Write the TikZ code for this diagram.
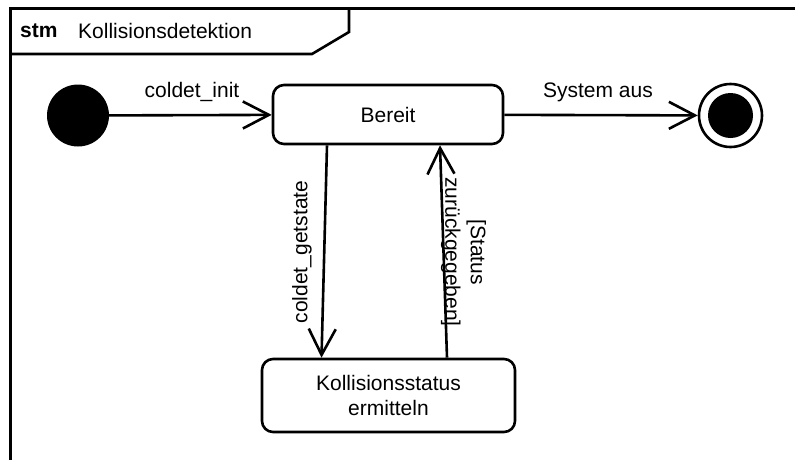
\documentclass[tikz,border=0pt]{standalone}
\usepackage{fontspec}
\setmainfont{Liberation Sans}
\usetikzlibrary{arrows.meta,calc}
\begin{document}
\begin{tikzpicture}[x=1pt,y=-1pt,
  every node/.style={font=\fontsize{21}{25.5}\selectfont},
  statebox/.style={draw, line width=2.6pt, rounded corners=11pt, inner sep=0pt, align=center},
  trans/.style={line width=2.6pt, -{Straight Barb[length=26pt,width=27pt]}},
  lbl/.style={inner sep=0pt, align=center}]
\useasboundingbox (0,0) rectangle (795,459);
% frame
\draw[line width=3pt] (10,470) -- (10,8) -- (800,8);
\draw[line width=2.6pt] (10,54) -- (312,54) -- (349,32) -- (349,8);
\node[anchor=west, inner sep=0pt] (kw) at (20,31) {\textbf{stm}};
\node[anchor=west, inner sep=0pt] (title) at (78,31) {Kollisionsdetektion};
% states
\node[circle, fill=black, minimum size=62pt, inner sep=0pt] (init) at (78,115.5) {};
\node[statebox, minimum width=230pt, minimum height=59pt] (bereit) at (388,114.5) {Bereit};
\node[circle, draw, line width=2.6pt, minimum size=63pt, inner sep=0pt] (final) at (730.5,115.5) {};
\node[circle, fill=black, minimum size=45pt, inner sep=0pt] (finalin) at (final) {};
\node[statebox, minimum width=253pt, minimum height=73pt] (koll) at (388.5,395.5) {Kollisionsstatus\\ermitteln};
% transitions
\draw[trans] (init) -- (bereit);
\draw[trans] (bereit) -- (final);
\draw[trans] ($(bereit.south)+(-61,0)$) -- ($(koll.north)+(-67,0)$);
\draw[trans] ($(koll.north)+(58.5,0)$) -- ($(bereit.south)+(52,0)$);
% labels
\node[lbl] (l1) at (192,92) {coldet\_init};
\node[lbl] (l2) at (598,92) {System aus};
\node[lbl, rotate=90] (l3) at (302,252) {coldet\_getstate};
\node[lbl, rotate=-90] (l4) at (463.5,252) {[Status\\zurückgegeben]};
\end{tikzpicture}
\end{document}
